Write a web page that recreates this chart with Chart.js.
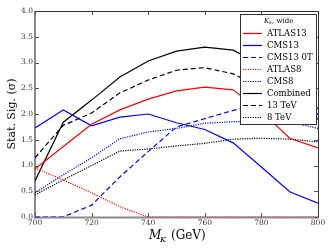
<!DOCTYPE html>
<html><head><meta charset="utf-8">
<script src="https://cdn.jsdelivr.net/npm/chart.js@4.4.0/dist/chart.umd.min.js"></script>
<style>html,body{margin:0;padding:0;background:#fff}#wrap{width:332px;height:249px}</style>
</head><body><div id="wrap"><canvas id="c" width="332" height="249"></canvas></div>
<script>
const mass = [700,710,720,730,740,750,760,770,780,790,800];
const atlas13  = [0.93,1.37,1.80,2.08,2.29,2.45,2.52,2.47,2.05,1.53,1.34];
const cms13    = [1.73,2.08,1.77,1.94,2.00,1.83,1.70,1.44,0.97,0.49,0.27];
const cms13_0T = [0.00,0.00,0.23,0.78,1.27,1.75,1.91,2.07,2.20,2.20,2.00];
const atlas8   = [0.95,0.72,0.47,0.20,0.00,0.00,0.00,0.00,0.00,0.00,0.00];
const cms8     = [0.47,0.82,1.15,1.52,1.65,1.72,1.82,1.85,1.86,1.85,1.72];
const combined = [0.70,1.84,2.27,2.72,3.03,3.22,3.30,3.24,2.95,2.50,2.10];
const tev13    = [1.15,1.78,2.02,2.41,2.66,2.85,2.90,2.78,2.50,2.20,1.90];
const tev8     = [0.43,0.72,1.00,1.28,1.32,1.38,1.43,1.51,1.53,1.51,1.46];
const xTicks = [700,720,740,760,780,800];
const yTicks = [0,0.5,1,1.5,2,2.5,3,3.5,4];

const SERIF = "'DejaVu Serif', serif";
const DOT = [1.2,1.2], DASH = [5,3];
function ds(label, data, color, dash){
  return {label, data: mass.map((m,i)=>({x:m,y:data[i]})), borderColor: color,
    borderWidth: 1.2, borderDash: dash, pointRadius: 0, fill: false, tension: 0};
}
const datasets = [
  ds('ATLAS13', atlas13, '#ff0000', []),
  ds('CMS13', cms13, '#0000ff', []),
  ds('CMS13 0T', cms13_0T, '#0000ff', DASH),
  ds('ATLAS8', atlas8, '#ff0000', DOT),
  ds('CMS8', cms8, '#0000ff', DOT),
  ds('Combined', combined, '#000000', []),
  ds('13 TeV', tev13, '#000000', DASH),
  ds('8 TeV', tev8, '#000000', DOT),
];

const framePlugin = {
  id: 'frame',
  beforeDatasetsDraw(chart){
    const {ctx, chartArea: a} = chart;
    ctx.save();
    ctx.strokeStyle = '#8a8a8a'; ctx.lineWidth = 2;
    ctx.beginPath();
    ctx.moveTo(a.left, a.top); ctx.lineTo(a.left, a.bottom+0.5); ctx.lineTo(a.right+1, a.bottom+0.5);
    ctx.stroke();
    ctx.restore();
  },
  afterDatasetsDraw(chart){
    const {ctx, chartArea: a, scales} = chart;
    ctx.save();
    ctx.strokeStyle = '#555'; ctx.lineWidth = 1;
    xTicks.forEach(v=>{
      const px = Math.round(scales.x.getPixelForValue(v))+0.5;
      ctx.beginPath(); ctx.moveTo(px,a.bottom); ctx.lineTo(px,a.bottom-4);
      ctx.moveTo(px,a.top); ctx.lineTo(px,a.top+4); ctx.stroke();
    });
    yTicks.forEach(v=>{
      const py = Math.round(scales.y.getPixelForValue(v))+0.5;
      ctx.beginPath(); ctx.moveTo(a.left,py); ctx.lineTo(a.left+4,py);
      ctx.moveTo(a.right,py); ctx.lineTo(a.right-4,py); ctx.stroke();
    });
    ctx.strokeStyle = '#333'; ctx.lineWidth = 1;
    ctx.beginPath();
    ctx.moveTo(a.left, a.top+0.5); ctx.lineTo(a.right+0.5, a.top+0.5); ctx.lineTo(a.right+0.5, a.bottom);
    ctx.stroke();
    // legend
    const lx = 240, ly = 14, lw = 76, lh = 110;
    ctx.fillStyle = '#fff'; ctx.fillRect(lx, ly, lw, lh);
    ctx.strokeStyle = '#333'; ctx.lineWidth = 1;
    ctx.strokeRect(lx+0.5, ly+0.5, lw, lh);
    ctx.fillStyle = '#000';
    ctx.font = "italic 7px " + SERIF; ctx.textBaseline = 'middle'; ctx.textAlign = 'left';
    ctx.fillText('K', 264, 21);
    ctx.font = "italic 5px " + SERIF; ctx.fillText('s', 269, 23);
    ctx.font = "7px " + SERIF; ctx.fillText(', wide', 272, 21);
    ctx.font = "8.5px " + SERIF;
    chart.data.datasets.forEach((d,i)=>{
      const y = 33 + i*12;
      ctx.strokeStyle = d.borderColor; ctx.lineWidth = 1.2;
      ctx.setLineDash(d.borderDash || []);
      ctx.beginPath(); ctx.moveTo(243, y+0.5); ctx.lineTo(262, y+0.5); ctx.stroke();
      ctx.setLineDash([]);
      ctx.fillStyle = '#000';
      ctx.fillText(d.label, 267, y+1);
    });
    // x title
    ctx.font = "italic 12px " + SERIF; ctx.textBaseline = 'alphabetic';
    ctx.fillText('M', 149, 239);
    ctx.font = "italic 8px " + SERIF; ctx.fillText('K', 160, 242);
    ctx.font = "12px " + SERIF; ctx.fillText('(GeV)', 171, 239);
    ctx.restore();
  }
};

new Chart(document.getElementById('c'), {
  type: 'line',
  data: { datasets },
  options: {
    responsive: false, animation: false, devicePixelRatio: 1,
    layout: { padding: { top: 11, right: 14, left: 0, bottom: 0 } },
    plugins: { legend: { display: false }, tooltip: { enabled: false } },
    scales: {
      x: { type: 'linear', min: 700, max: 800,
        afterBuildTicks(s){ s.ticks = xTicks.map(v=>({value:v})); },
        afterFit(s){ s.height = 32; },
        grid: { display: false, drawTicks: false }, border: { display: false },
        ticks: { padding: 2, color: '#333', font: { family: SERIF, size: 7.5 }, maxRotation: 0 } },
      y: { min: 0, max: 4,
        afterBuildTicks(s){ s.ticks = yTicks.map(v=>({value:v})); },
        afterFit(s){ s.width = 35; },
        grid: { display: false, drawTicks: false }, border: { display: false },
        ticks: { padding: 2, color: '#333', font: { family: SERIF, size: 7.5 }, callback: v => v.toFixed(1) },
        title: { display: true, text: 'Stat. Sig. (\u03C3)', color: '#000', font: { family: SERIF, size: 11 }, padding: { top: 6, bottom: 0 } } }
    }
  },
  plugins: [framePlugin]
});
</script></body></html>
